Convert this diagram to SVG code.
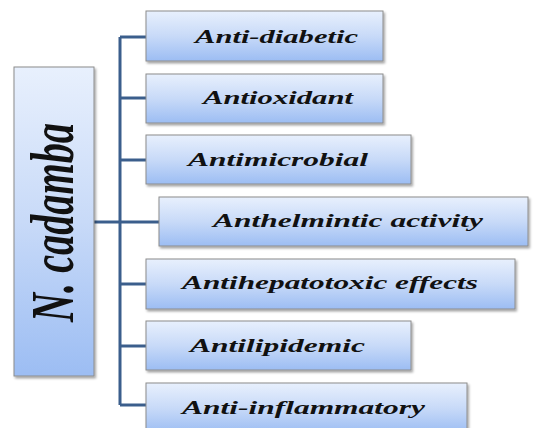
<svg xmlns="http://www.w3.org/2000/svg" width="533" height="428" viewBox="0 0 533 428">
<defs>
<linearGradient id="g" x1="0" y1="0" x2="0" y2="1">
<stop offset="0" stop-color="#E8F0FD"/>
<stop offset="0.5" stop-color="#C8DAF8"/>
<stop offset="1" stop-color="#9CBDF3"/>
</linearGradient>
<filter id="sh" x="-10%" y="-10%" width="130%" height="140%">
<feDropShadow dx="1.5" dy="2" stdDeviation="1.2" flood-color="#000" flood-opacity="0.35"/>
</filter>
</defs>
<style>
.box{fill:url(#g);stroke:#8C8C8C;stroke-width:1;filter:url(#sh)}
.lbl{font-family:"Liberation Serif","Times New Roman",serif;font-style:italic;font-weight:bold;font-size:19px;fill:#111}
.conn{fill:none;stroke:#3B5E8C;stroke-width:3}
</style>
<rect width="533" height="428" fill="#fff"/>
<g id="connectors" class="conn">
<path d="M94 222 H120"/>
<path d="M120 37 V405"/>
<path d="M120 37 H146"/>
<path d="M120 98 H146"/>
<path d="M120 160 H146"/>
<path d="M120 222 H159"/>
<path d="M120 284 H146"/>
<path d="M120 346 H146"/>
<path d="M120 405 H146"/>
</g>
<g id="root">
<rect class="box" x="14" y="67" width="80" height="309"/>
<text transform="translate(73,222.5) rotate(-90)" text-anchor="middle" font-family="'Liberation Serif','Times New Roman',serif" font-style="italic" font-weight="bold" font-size="62" fill="#111" textLength="199" lengthAdjust="spacingAndGlyphs">N. cadamba</text>
</g>
<g id="n1"><rect class="box" x="146" y="11" width="237" height="50"/><text class="lbl" x="195" y="43" textLength="163" lengthAdjust="spacingAndGlyphs">Anti-diabetic</text></g>
<g id="n2"><rect class="box" x="146" y="74" width="237" height="49"/><text class="lbl" x="203" y="104" textLength="150" lengthAdjust="spacingAndGlyphs">Antioxidant</text></g>
<g id="n3"><rect class="box" x="146" y="135" width="265" height="49"/><text class="lbl" x="188" y="166" textLength="180" lengthAdjust="spacingAndGlyphs">Antimicrobial</text></g>
<g id="n4"><rect class="box" x="159" y="197" width="369" height="49"/><text class="lbl" x="213" y="227" textLength="270" lengthAdjust="spacingAndGlyphs">Anthelmintic activity</text></g>
<g id="n5"><rect class="box" x="146" y="259" width="369" height="50"/><text class="lbl" x="182" y="289" textLength="296" lengthAdjust="spacingAndGlyphs">Antihepatotoxic effects</text></g>
<g id="n6"><rect class="box" x="146" y="321" width="265" height="49"/><text class="lbl" x="190" y="352" textLength="175" lengthAdjust="spacingAndGlyphs">Antilipidemic</text></g>
<g id="n7"><rect class="box" x="146" y="383" width="321" height="50"/><text class="lbl" x="182" y="414" textLength="243" lengthAdjust="spacingAndGlyphs">Anti-inflammatory</text></g>
</svg>
